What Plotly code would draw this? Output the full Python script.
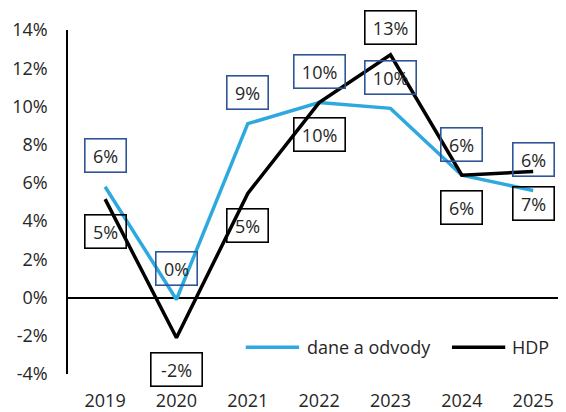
import plotly.graph_objects as go

years = ["2019", "2020", "2021", "2022", "2023", "2024", "2025"]
dane = [5.8, -0.1, 9.1, 10.2, 9.9, 6.4, 5.6]
hdp = [5.15, -2.1, 5.45, 10.2, 12.7, 6.4, 6.6]
dane_label_pos = ["above"] * 7
hdp_label_pos = ["below", "below", "below", "below", "above", "below", "below"]
y_ticks = [-4, -2, 0, 2, 4, 6, 8, 10, 12, 14]
series_names = ["dane a odvody", "HDP"]

BLUE = "#2EA9DF"
BOX_BLUE = "#2F5597"
FONT = "Open Sans"
TXT = "#262626"

fig = go.Figure()
fig.add_trace(go.Scatter(x=years, y=dane, mode="lines", name=series_names[0],
                         line=dict(color=BLUE, width=3.5)))
fig.add_trace(go.Scatter(x=years, y=hdp, mode="lines", name=series_names[1],
                         line=dict(color="black", width=3.5)))


def label(i, v, pos, border, up_shift):
    txt = f"{round(v):.0f}%"
    return dict(x=i, y=v, xref="x", yref="y", text=txt, showarrow=False,
                yshift=up_shift if pos == "above" else -32,
                width=10 * len(txt) + 16, height=28, align="center", valign="middle",
                bordercolor=border, borderwidth=1.6, borderpad=2,
                font=dict(size=18, color=TXT, family=FONT))


ann = []
for i, (v, pos) in enumerate(zip(dane, dane_label_pos)):
    ann.append(label(i, v, pos, BOX_BLUE, 31))
for i, (v, pos) in enumerate(zip(hdp, hdp_label_pos)):
    ann.append(label(i, v, pos, "black", 27))

# custom legend (longer line samples than plotly's native legend)
leg_y = 0.078
leg_items = [(series_names[0], BLUE, 0.357, 0.464, 0.476),
             (series_names[1], "black", 0.771, 0.878, 0.888)]
shapes = []
for name, col, x0, x1, xt in leg_items:
    shapes.append(dict(type="line", xref="paper", yref="paper", x0=x0, x1=x1,
                       y0=leg_y, y1=leg_y, line=dict(color=col, width=3.5)))
    ann.append(dict(xref="paper", yref="paper", x=xt, y=leg_y, text=name,
                    showarrow=False, xanchor="left", yanchor="middle",
                    font=dict(size=18, color=TXT, family=FONT)))

fig.update_layout(
    width=558, height=404,
    margin=dict(l=60, r=0, t=22, b=36),
    paper_bgcolor="white", plot_bgcolor="white",
    font=dict(family=FONT, size=18, color=TXT),
    annotations=ann,
    shapes=shapes,
    showlegend=False,
    xaxis=dict(type="category", showgrid=False, showline=False, ticks="",
               tickfont=dict(size=18, color=TXT), ticklabelstandoff=14,
               range=[-0.52, 6.46]),
    yaxis=dict(range=[-4, 14], tickvals=y_ticks, ticktext=[f"{t}%" for t in y_ticks],
               showgrid=False, showline=True, linecolor="black", linewidth=1.5,
               zeroline=True, zerolinecolor="black", zerolinewidth=2,
               ticks="", tickfont=dict(size=18, color=TXT), ticklabelstandoff=15),
)

fig.write_html("out.html")
